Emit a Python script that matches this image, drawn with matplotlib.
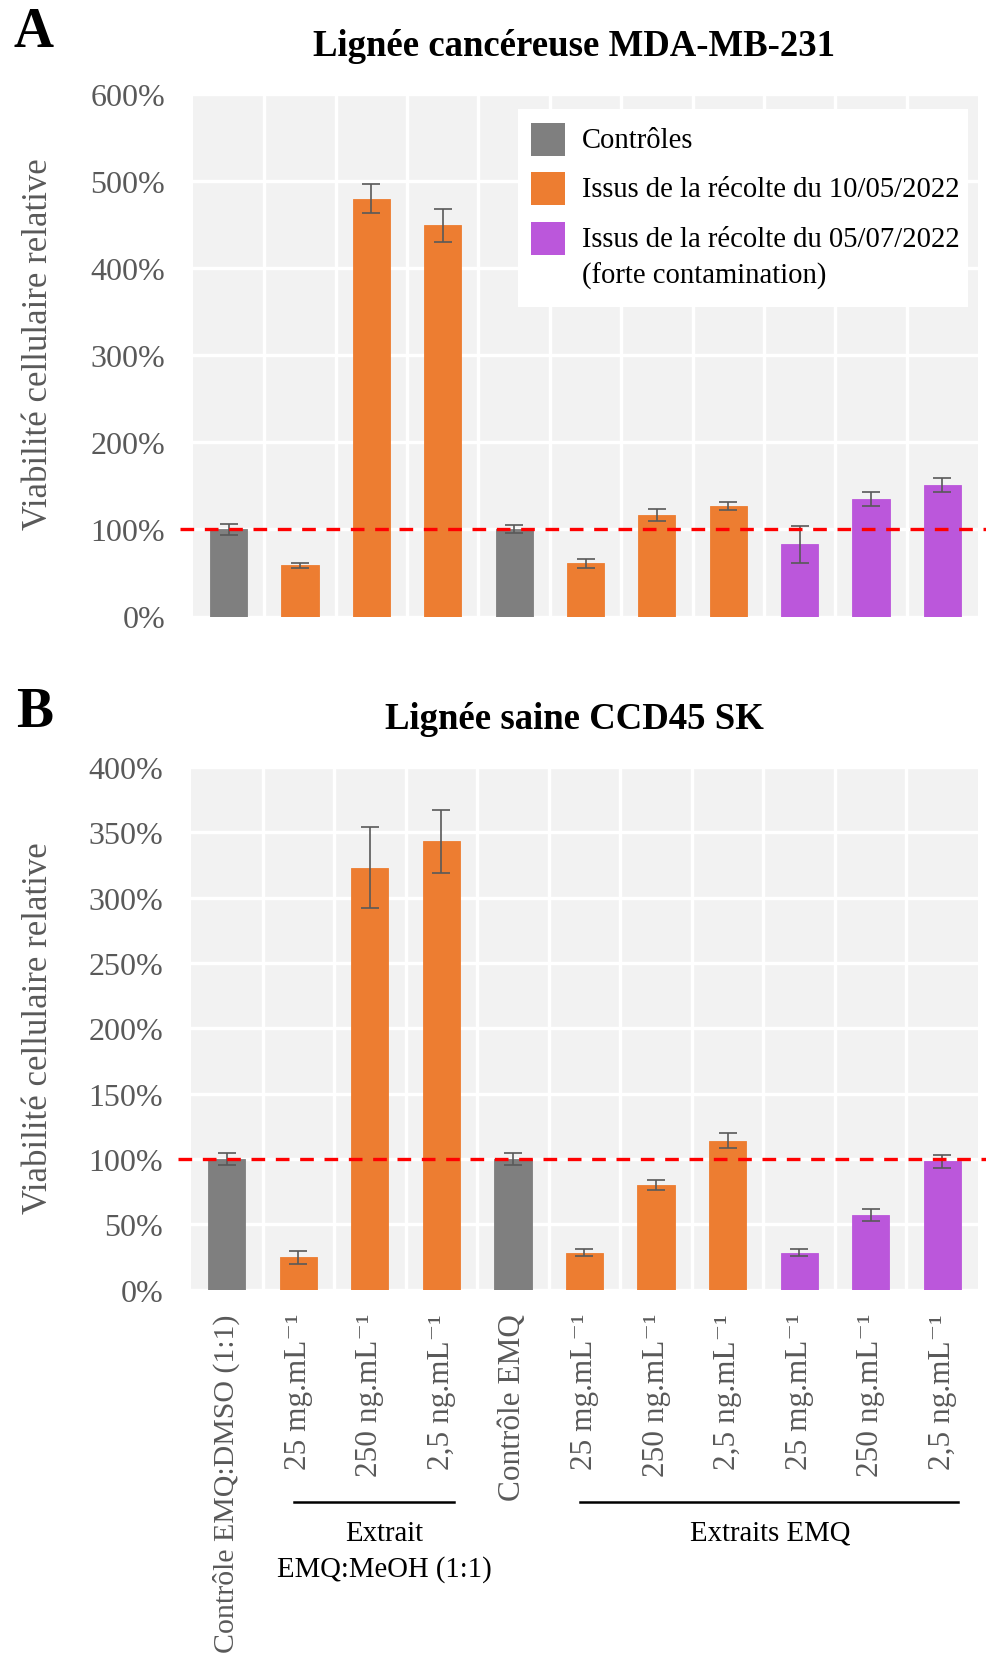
import numpy as np
import matplotlib
matplotlib.use("Agg")
import matplotlib.pyplot as plt
from matplotlib.patches import Rectangle
import matplotlib.transforms as mtransforms

plt.rcParams['font.family'] = ['Liberation Serif', 'DejaVu Serif']

# data
labels = ["Contrôle EMQ:DMSO (1:1)", "25 mg.mL⁻¹", "250 ng.mL⁻¹", "2,5 ng.mL⁻¹",
          "Contrôle EMQ", "25 mg.mL⁻¹", "250 ng.mL⁻¹", "2,5 ng.mL⁻¹",
          "25 mg.mL⁻¹", "250 ng.mL⁻¹", "2,5 ng.mL⁻¹"]
source = ["ctrl", "mai", "mai", "mai", "ctrl", "mai", "mai", "mai", "juil", "juil", "juil"]

mda_vals = [100, 59, 480, 449, 100, 61, 117, 127, 83, 135, 151]
mda_err = [6.5, 3, 17, 19, 4.5, 5.5, 7, 5, 21, 8.5, 8]

ccd_vals = [100, 24.5, 323, 343, 100, 28, 80, 114, 28, 57, 98]
ccd_err = [4.5, 5, 31, 24, 4.7, 2.7, 4, 6, 2.7, 4.7, 5]

REF = 100

legend_keys = ["ctrl", "mai", "juil"]
legend_labels = ["Contrôles", "Issus de la récolte du 10/05/2022",
                 "Issus de la récolte du 05/07/2022\n(forte contamination)"]
colors = {"ctrl": "#7F7F7F", "mai": "#ED7D31", "juil": "#BB57DB"}
gray_txt = "#595959"

W, H = 987, 1665
fig = plt.figure(figsize=(W / 100, H / 100), dpi=100)


def px_axes(l, t, r, b):
    return fig.add_axes([l / W, 1 - b / H, (r - l) / W, (b - t) / H])


def draw(ax, vals, errs, ymax, step):
    x = np.arange(len(vals))
    cols = [colors[s] for s in source]
    ax.set_facecolor("#F2F2F2")
    ax.bar(x, vals, width=0.52, color=cols, edgecolor=cols, linewidth=0.6, zorder=3)
    ax.errorbar(x, vals, yerr=errs, fmt="none", ecolor=gray_txt, elinewidth=1.2,
                capsize=6.8, capthick=1.2, zorder=4)
    ax.axhline(REF, xmin=-0.016, xmax=1.012, color="#FF0000", lw=2.4,
               dashes=(4.1, 3.2), clip_on=False, zorder=5)
    ax.set_xlim(-0.5, len(vals) - 0.5)
    ax.set_ylim(0, ymax)
    ax.set_yticks(np.arange(0, ymax + 1, step))
    ax.set_yticklabels([f"{int(v)}%" for v in np.arange(0, ymax + 1, step)])
    ax.set_xticks(x)
    ax.set_xticks(np.arange(0.5, len(vals) - 0.5, 1), minor=True)
    ax.set_axisbelow(True)
    ax.grid(axis="y", which="major", color="white", lw=2.4)
    ax.grid(axis="x", which="minor", color="white", lw=2.4)
    ax.grid(axis="x", which="major", visible=False)
    for s in ax.spines.values():
        s.set_visible(False)
    ax.tick_params(which="both", length=0)
    ax.tick_params(axis="y", pad=20, labelsize=23, labelcolor=gray_txt)


# panel A
A_L, A_T, A_R, A_B = 193, 95, 978, 617.5
ax1 = px_axes(A_L, A_T, A_R, A_B)
draw(ax1, mda_vals, mda_err, 600, 100)
ax1.set_xticklabels([])


def fx(px):
    return (px - A_L) / (A_R - A_L)


def fy(py):
    return (A_B - py) / (A_B - A_T)


# legend box drawn by hand so the purple key sits on the first text line
ax1.add_patch(Rectangle((fx(518), fy(308)), fx(968) - fx(518), fy(110) - fy(308),
                        transform=ax1.transAxes, facecolor="white", edgecolor="none", zorder=6))
key_tops = [124, 173, 223]
for key, lab, top in zip(legend_keys, legend_labels, key_tops):
    ax1.add_patch(Rectangle((fx(531), fy(top + 33)), fx(565) - fx(531), fy(top) - fy(top + 33),
                            transform=ax1.transAxes, facecolor=colors[key],
                            edgecolor="none", zorder=7))
    for j, line in enumerate(lab.split("\n")):
        ax1.text(fx(582), fy(top + 17 + 36 * j), line, transform=ax1.transAxes,
                 ha="left", va="center", fontsize=20.6, color="black", zorder=8)

# panel B
ax2 = px_axes(191, 768, 978, 1290.5)
draw(ax2, ccd_vals, ccd_err, 400, 50)
ax2.set_xticklabels(labels, rotation=90, fontsize=22.5, color=gray_txt)
ax2.get_xticklabels()[0].set_fontsize(21.5)
ax2.tick_params(axis="x", pad=17)

# group brackets under panel B
tr = mtransforms.blended_transform_factory(ax2.transData, ax2.transAxes)
ax2.plot([0.94, 3.18], [-0.407, -0.407], color="black", lw=1.8, transform=tr, clip_on=False)
ax2.plot([4.94, 10.22], [-0.407, -0.407], color="black", lw=1.8, transform=tr, clip_on=False)
ax2.text(2.2, -0.441, "Extrait\nEMQ:MeOH (1:1)", transform=tr, ha="center", va="top",
         fontsize=20.7, linespacing=1.45)
ax2.text(7.59, -0.441, "Extraits EMQ", transform=tr, ha="center", va="top", fontsize=20.7)

# titles, panel letters, y labels
fig.text(574 / W, 1 - 46 / H, "Lignée cancéreuse MDA-MB-231", ha="center", va="center",
         fontsize=26.5, fontweight="bold")
fig.text(574 / W, 1 - 720 / H, "Lignée saine CCD45 SK", ha="center", va="center",
         fontsize=26.5, fontweight="bold")
fig.text(13 / W, 1 - 33 / H, "A", ha="left", va="center", fontsize=40, fontweight="bold")
fig.text(16 / W, 1 - 713 / H, "B", ha="left", va="center", fontsize=40, fontweight="bold")
fig.text(39 / W, 1 - 344 / H, "Viabilité cellulaire relative", rotation=90, ha="center",
         va="center", fontsize=25, color=gray_txt)
fig.text(39 / W, 1 - 1028 / H, "Viabilité cellulaire relative", rotation=90, ha="center",
         va="center", fontsize=25, color=gray_txt)

fig.savefig("out.png", dpi=100, facecolor="white")
